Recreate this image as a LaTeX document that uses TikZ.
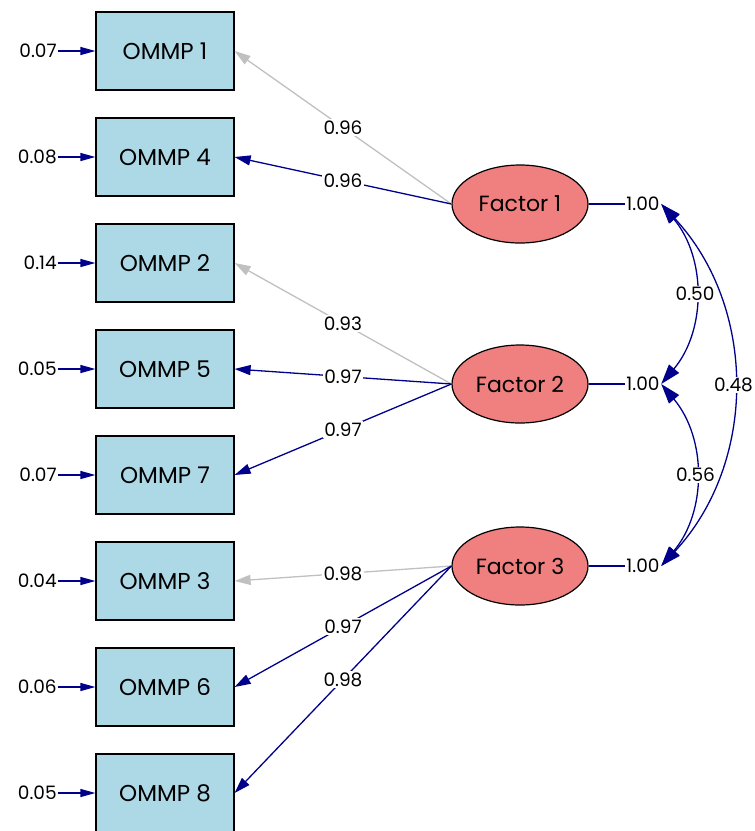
\documentclass[tikz,border=0pt]{standalone}
\usepackage{fontspec}
\setmainfont{Poppins}
\usetikzlibrary{
    arrows.meta,
    positioning,
    shapes.geometric,
}
\definecolor{pathblue}{HTML}{00008B}
\definecolor{fixedgrey}{HTML}{C0C0C0}
\definecolor{itemblue}{HTML}{ADD8E6}
\definecolor{factorred}{HTML}{F08080}

\begin{document}
\begin{tikzpicture}[
    x=1pt, y=1pt,
    node distance = 26.8pt,
    item/.style={draw, line width=1.2pt, fill=itemblue, minimum width=138pt, minimum height=78pt, inner sep=0pt, font=\fontsize{23}{27}\selectfont},
    factor/.style={ellipse, draw, line width=1.2pt, fill=factorred, minimum width=136pt, minimum height=78pt, inner sep=0pt, font=\fontsize{22}{26}\selectfont},
    num/.style={font=\fontsize{18.5}{22}\selectfont, text=black, inner sep=1.5pt},
    weight/.style={num, fill=white, midway},
    load/.style={-{Triangle[length=16pt,width=10pt]}, line width=1.3pt, pathblue},
    fixed/.style={load, fixedgrey},
    cov/.style={{Triangle[length=20pt,width=13pt]}-{Triangle[length=20pt,width=13pt]}, line width=1.3pt, pathblue},
    ]

\useasboundingbox (0,0) rectangle (755,-831);

% observed items
\node[item] at (165,-51) (o1) {OMMP 1};
\node[item] [below=of o1] (o4) {OMMP 4};
\node[item] [below=of o4] (o2) {OMMP 2};
\node[item] [below=of o2] (o5) {OMMP 5};
\node[item] [below=of o5] (o7) {OMMP 7};
\node[item] [below=of o7] (o3) {OMMP 3};
\node[item] [below=of o3] (o6) {OMMP 6};
\node[item] [below=of o6] (o8) {OMMP 8};

% error variances
\foreach \o/\v in {o1/0.07, o4/0.08, o2/0.14, o5/0.05, o7/0.07, o3/0.04, o6/0.06, o8/0.05}
{
    \node[num, left=37pt of \o] (e\o) {\v};
    \draw[-{Triangle[length=15pt,width=8pt]}, line width=1.3pt, pathblue] (e\o) -- (\o);
}

% latent factors
\node[factor] at (520,-204) (f1) {Factor 1};
\node[factor] at (520,-384) (f2) {Factor 2};
\node[factor] at (520,-566) (f3) {Factor 3};

% loadings
\draw[fixed] (f1.west) -- (o1.east) node[weight] {0.96};
\draw[load] (f1.west) -- (o4.east) node[weight] {0.96};
\draw[fixed] (f2.west) -- (o2.east) node[weight] {0.93};
\draw[load] (f2.west) -- (o5.east) node[weight] {0.97};
\draw[load] (f2.west) -- (o7.east) node[weight] {0.97};
\draw[fixed] (f3.west) -- (o3.east) node[weight] {0.98};
\draw[load] (f3.west) -- (o6.east) node[weight] {0.97};
\draw[load] (f3.west) -- (o8.east) node[weight] {0.98};

% factor variances
\node[num] at (643,-204) (v1) {1.00};
\node[num] at (643,-384) (v2) {1.00};
\node[num] at (643,-566) (v3) {1.00};
\draw[line width=1.3pt, pathblue] (f1.east) -- (v1.west);
\draw[line width=1.3pt, pathblue] (f2.east) -- (v2.west);
\draw[line width=1.3pt, pathblue] (f3.east) -- (v3.west);

% covariances
\draw[cov] (v1.east) to[out=-50, in=50] node[weight] {0.50} (v2.east);
\draw[cov] (v2.east) to[out=-50, in=50] node[weight] {0.56} (v3.east);
\draw[cov] (v1.east) to[out=-47, in=47] node[weight] {0.48} (v3.east);

\end{tikzpicture}
\end{document}
